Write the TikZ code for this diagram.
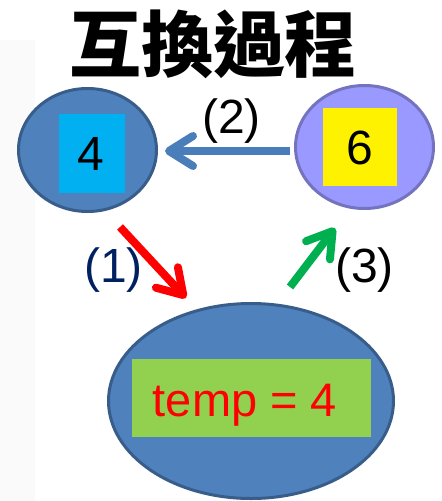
\documentclass[tikz,border=0pt]{standalone}
\usepackage{fontspec}
\setmainfont{Liberation Sans}
\newfontfamily\cjk{Noto Sans CJK TC}
\usetikzlibrary{shapes.geometric,arrows.meta}

\definecolor{ballblue}{HTML}{4F81BD}
\definecolor{ballrim}{HTML}{385D8A}
\definecolor{lavender}{HTML}{9999FF}
\definecolor{lavrim}{HTML}{7373BF}
\definecolor{boxcyan}{HTML}{00B0F0}
\definecolor{boxgreen}{HTML}{92D050}
\definecolor{arrowblue}{HTML}{4A7EBB}
\definecolor{arrowgreen}{HTML}{00B050}
\definecolor{navy}{HTML}{002060}
\definecolor{stripgray}{HTML}{FAFAFA}

\tikzset{
  ball/.style={ellipse, draw, line width=3pt, inner sep=0pt},
  valbox/.style={rectangle, inner sep=0pt},
  digit/.style={font=\fontsize{48}{48}\selectfont, inner sep=0pt, anchor=base},
  steplabel/.style={font=\fontsize{48}{48}\selectfont, inner sep=0pt, anchor=base},
  move/.style={line width=8pt,
    -{Straight Barb[length=24pt, width=30pt, line cap=round, line join=round]}},
}

\begin{document}
\begin{tikzpicture}[x=1pt, y=-1pt]
  \useasboundingbox (0,0) rectangle (442,501);
  \fill[stripgray] (0,40) rectangle (35,501);

  % heading
  \node[font=\cjk\bfseries\fontsize{72}{72}\selectfont, inner sep=0pt] (title) at (213,44) {互換過程};

  % variable a
  \node[ball, fill=ballblue, draw=ballrim, minimum width=138pt, minimum height=123pt] (a) at (87.5,150) {};
  \node[valbox, fill=boxcyan, minimum width=66pt, minimum height=79pt] (abox) at (92,153.5) {};
  \node[digit] (aval) at (91,170.5) {4};

  % variable b
  \node[ball, fill=lavender, draw=lavrim, minimum width=138pt, minimum height=123pt] (b) at (364.5,147) {};
  \node[valbox, fill=yellow, minimum width=74pt, minimum height=78pt] (bbox) at (360,147) {};
  \node[digit] (bval) at (360,164.5) {6};

  % temporary variable
  \node[ball, fill=ballblue, draw=ballrim, minimum width=285pt, minimum height=195pt] (t) at (251,401) {};
  \node[valbox, fill=boxgreen, minimum width=239pt, minimum height=78pt] (tbox) at (251.5,398) {};
  \node[font=\fontsize{47}{47}\selectfont, text=red, inner sep=0pt, anchor=base] (tval) at (245,416) {temp = 4};

  % arrow end points
  \coordinate (s1) at (120,227);
  \coordinate (e1) at (186,298);
  \coordinate (s2) at (290,151);
  \coordinate (e2) at (165,151);
  \coordinate (s3) at (290,287);
  \coordinate (e3) at (335,228);

  \draw[move, red] (s1) -- (e1);
  \draw[move, arrowblue] (s2) -- (e2);
  \draw[move, arrowgreen] (s3) -- (e3);

  % step labels
  \node[steplabel, text=navy] (l1) at (113.5,282) {(1)};
  \node[steplabel] (l2) at (231.5,133) {(2)};
  \node[steplabel] (l3) at (364.5,282) {(3)};
\end{tikzpicture}
\end{document}
